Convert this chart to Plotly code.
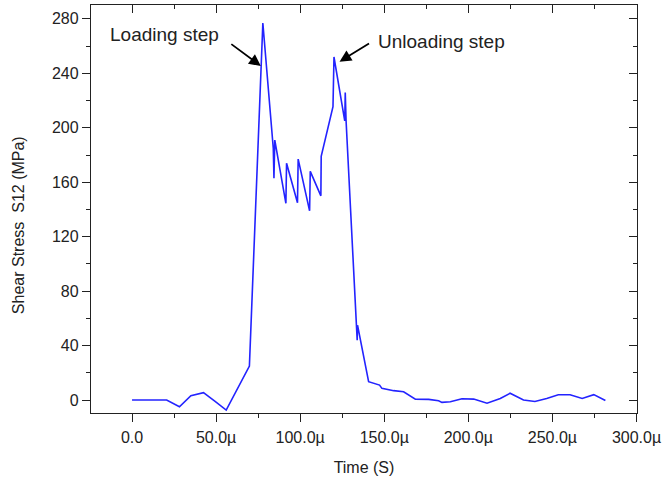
import plotly.graph_objects as go

# Time in microseconds, shear stress in MPa
time_us = [0, 20.6, 28.2, 35.0, 42.5, 48.3, 49.4, 56.0, 69.8, 77.8, 84.0, 84.4, 84.9,
           91.5, 91.9, 98.4, 98.8, 105.6, 106.0, 112.3, 112.5, 119.5, 120.1, 126.5,
           126.8, 127.3, 133.9, 134.1, 140.7, 147.2, 148.6, 155.6, 161.5, 168.5,
           176.4, 182.3, 184.3, 189.3, 196.2, 203.2, 211.1, 219.0, 224.8, 232.8,
           239.6, 246.6, 253.5, 260.5, 267.7, 274.6, 281.5]
stress = [0, 0, -4.9, 3.2, 5.4, 0.5, -1.0, -7.3, 25, 277, 185, 163, 191,
          144.5, 174, 145, 177, 139, 168, 150, 179, 215.5, 252, 205,
          226, 205, 44, 55, 13.5, 11, 8.6, 6.9, 6.1, 0.7,
          0.5, -0.5, -1.7, -1.2, 1.0, 0.7, -2.3, 1.2, 5.0, 0.0,
          -1.1, 1.1, 3.9, 3.9, 1.2, 4.0, -0.3]

x_tickvals = [0, 50, 100, 150, 200, 250, 300]
x_ticktext = ["0.0", "50.0\u00b5", "100.0\u00b5", "150.0\u00b5", "200.0\u00b5", "250.0\u00b5", "300.0\u00b5"]
y_tickvals = [0, 40, 80, 120, 160, 200, 240, 280]

XR = [-24.4, 300.3]
YR = [-9.5, 290.2]
FONT = "Liberation Sans, Arial, sans-serif"
AX = "#222222"

fig = go.Figure()
fig.add_trace(go.Scatter(x=time_us, y=stress, mode="lines",
                         line=dict(color="rgb(35,35,255)", width=1.6),
                         showlegend=False, hoverinfo="skip"))
# dummy trace for mirrored inside ticks
fig.add_trace(go.Scatter(x=[None], y=[None], xaxis="x2", yaxis="y2",
                         showlegend=False, hoverinfo="skip"))

common = dict(showgrid=False, zeroline=False, linecolor=AX, linewidth=1.3,
              tickcolor=AX, tickwidth=1.2,
              tickfont=dict(family=FONT, size=16, color=AX))

fig.update_layout(
    width=665, height=485,
    margin=dict(l=91, r=28, t=5, b=72),
    paper_bgcolor="white", plot_bgcolor="white",
    font=dict(family=FONT, size=16, color=AX),
    xaxis=dict(range=XR, tickvals=x_tickvals, ticktext=x_ticktext,
               ticks="outside", ticklen=8, showline=True, mirror=True,
               ticklabelstandoff=2,
               minor=dict(dtick=25, tick0=0, ticklen=4, tickcolor=AX, ticks="outside"),
               title=dict(text="Time (S)", font=dict(family=FONT, size=16, color=AX), standoff=16),
               **common),
    yaxis=dict(range=YR, tickvals=y_tickvals,
               ticks="outside", ticklen=8, showline=True, mirror=True,
               minor=dict(dtick=20, tick0=0, ticklen=4, tickcolor=AX, ticks="outside"),
               **common),
    xaxis2=dict(range=XR, overlaying="x", side="top", tickvals=x_tickvals,
                showticklabels=False, ticks="inside", ticklen=8, showline=False,
                minor=dict(dtick=25, tick0=0, ticklen=4, tickcolor=AX, ticks="inside"),
                showgrid=False, zeroline=False, tickcolor=AX, tickwidth=1.2),
    yaxis2=dict(range=YR, overlaying="y", side="right", tickvals=y_tickvals,
                showticklabels=False, ticks="inside", ticklen=8, showline=False,
                minor=dict(dtick=20, tick0=0, ticklen=4, tickcolor=AX, ticks="inside"),
                showgrid=False, zeroline=False, tickcolor=AX, tickwidth=1.2),
)

# y-axis title as annotation for exact placement
fig.add_annotation(text="Shear Stress\u00a0\u00a0S12 (MPa)", textangle=-90,
                   xref="paper", yref="paper", x=-0.134, y=0.46,
                   xanchor="center", yanchor="middle", showarrow=False,
                   font=dict(family=FONT, size=16, color=AX))

# labels
fig.add_annotation(text="Loading step", xref="x", yref="y", x=19.3, y=268.9,
                   xanchor="center", yanchor="middle", showarrow=False,
                   font=dict(family=FONT, size=19, color=AX))
fig.add_annotation(text="Unloading step", xref="x", yref="y", x=184.2, y=263.5,
                   xanchor="center", yanchor="middle", showarrow=False,
                   font=dict(family=FONT, size=19, color=AX))
# arrows
fig.add_annotation(text="", xref="x", yref="y", x=76.6, y=245.4,
                   ax=-31, ay=-23, showarrow=True, arrowhead=2, arrowsize=1.3,
                   arrowwidth=1.8, arrowcolor="black")
fig.add_annotation(text="", xref="x", yref="y", x=123.4, y=248.6,
                   ax=31, ay=-19, showarrow=True, arrowhead=2, arrowsize=1.3,
                   arrowwidth=1.8, arrowcolor="black")

fig.write_html("out.html", config={"displayModeBar": False},
               post_script="document.body.style.margin='0';")
